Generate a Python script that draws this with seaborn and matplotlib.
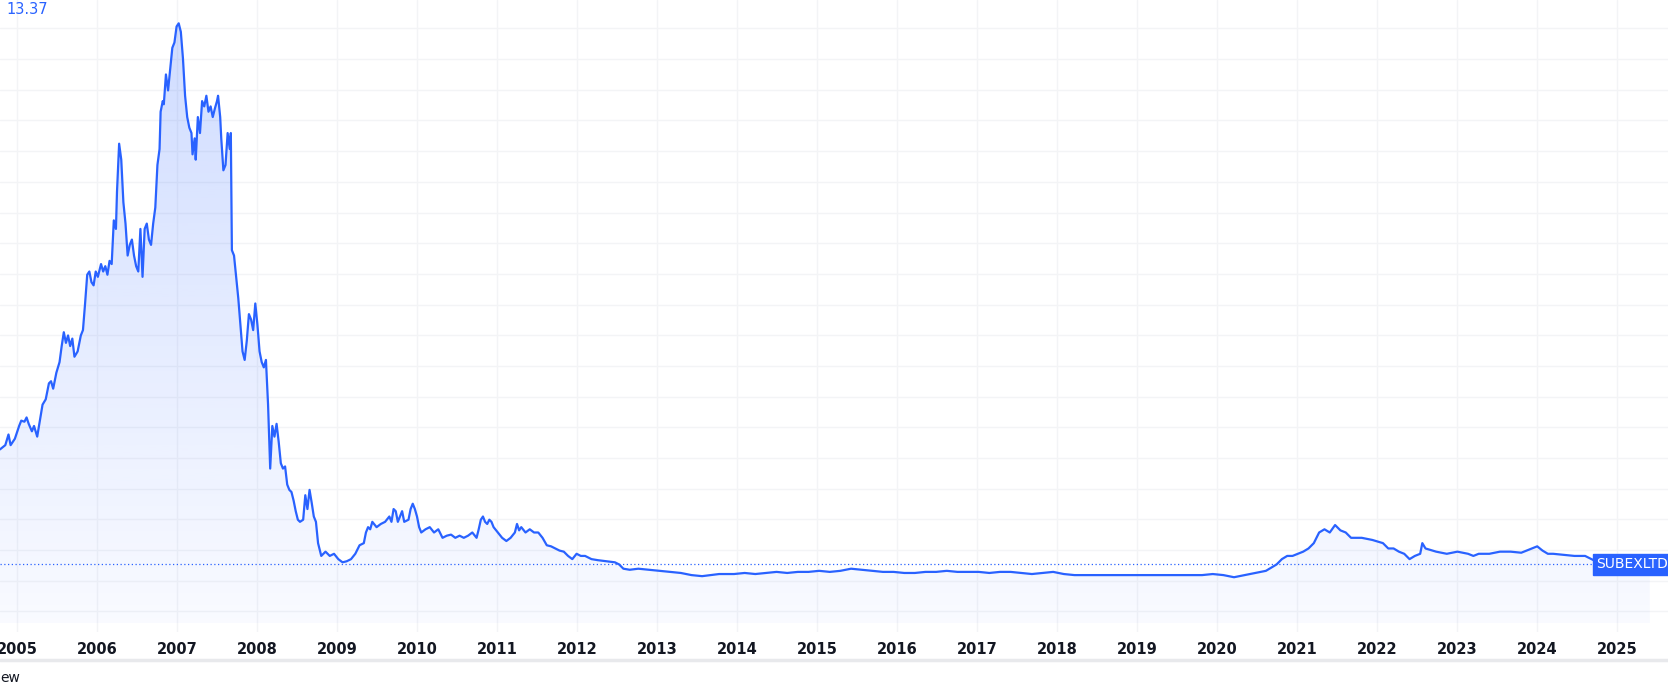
import numpy as np
import pandas as pd
import matplotlib
matplotlib.use("Agg")
import matplotlib.pyplot as plt
import seaborn as sns
from matplotlib.patches import Polygon

# Price series: (pixel x, pixel y) pairs converted to year / price
px = [0,5,8,10,14,18,20,23,25,27,30,32,35,37,40,43,46,48,50,53,56,58,60,62,64,66,68,70,73,76,78,80,82,84,86,88,90,92,95,97,99,101,103,105,107,109,110,112,114,116,118,120,122,124,126,128,130,132,134,136,138,140,142,144,146,148,150,151,153,154,156,158,160,162,164,166,168,170,172,174,176,178,180,181,183,184,186,188,190,192,194,196,198,200,202,204,205,207,208,210,212,214,216,217,218,220,222,224,226,228,230,232,234,236,238,240,242,244,246,248,250,252,254,256,258,260,262,264,266,268,270,272,274,276,278,280,282,285,287,289,291,293,295,297,299,302,306,310,314,318,322,326,330,334,338,342,344,346,348,350,354,358,362,366,368,370,372,374,376,378,380,384,386,388,390,392,394,396,400,404,408,412,416,420,424,428,432,436,440,444,448,450,452,454,456,458,460,462,464,468,472,476,480,484,486,488,490,494,498,502,506,510,514,518,522,526,530,534,538,542,546,550,556,562,570,578,582,586,592,600,610,620,630,640,650,660,668,676,690,700,710,720,730,740,750,760,770,780,790,800,810,820,830,840,850,860,870,880,890,900,910,920,930,940,950,960,970,980,990,1000,1010,1020,1030,1040,1050,1060,1070,1080,1090,1100,1110,1120,1130,1140,1150,1160,1170,1180,1190,1200,1205,1210,1215,1220,1225,1230,1235,1240,1245,1250,1255,1260,1265,1270,1280,1290,1300,1305,1310,1315,1320,1325,1330,1335,1337,1340,1350,1360,1370,1380,1385,1390,1400,1410,1420,1430,1440,1445,1450,1455,1460,1470,1480,1490,1500,1504]
py = [422,418,408,418,412,400,395,396,392,398,405,400,410,398,380,375,360,358,365,350,340,325,312,322,315,325,318,335,330,315,310,285,258,255,265,268,255,260,248,255,250,258,245,248,207,215,180,135,150,190,210,240,230,225,240,250,255,215,260,215,210,225,230,210,195,155,140,105,95,98,70,85,65,45,40,25,22,30,55,90,110,120,125,145,130,150,110,125,95,100,90,105,100,110,102,95,90,110,130,160,155,125,140,125,235,240,260,280,305,330,338,320,295,300,310,285,305,330,340,345,338,380,440,400,410,398,415,435,440,438,455,460,462,470,480,488,490,488,465,478,460,472,485,490,510,522,518,522,520,525,528,527,525,520,512,510,500,495,497,490,495,492,490,485,490,478,480,490,485,480,490,488,478,473,478,485,495,500,497,495,500,497,505,503,502,505,503,505,503,500,505,497,488,485,490,492,488,490,495,500,505,508,505,500,492,498,495,500,497,500,500,505,512,513,515,517,518,522,525,520,522,522,525,526,527,528,530,534,535,534,535,536,537,538,540,541,540,539,539,538,539,538,537,538,537,537,536,537,536,534,535,536,537,537,538,538,537,537,536,537,537,537,538,537,537,538,539,538,537,539,540,540,540,540,540,540,540,540,540,540,540,540,540,539,540,542,540,538,536,530,525,522,522,520,518,515,510,500,497,500,493,498,500,505,505,507,510,515,515,518,520,525,522,520,510,515,518,520,518,520,522,520,520,518,518,519,515,513,517,520,520,521,522,522,527,530]

years = 2005 + (np.array(px) - 16) / 75.2
price = 13.37 * (585 - np.array(py)) / 563.0
df = pd.DataFrame({"year": years, "price": price})

ticks_years = list(range(2005, 2026))
max_label = "13.37"
symbol = "SUBEXLTD"

BLUE = "#2962ff"
W, H = 1668, 695
fig = plt.figure(figsize=(W / 100, H / 100), dpi=100)
sns.set_style("white")
ax = fig.add_axes([0, (H - 632) / H, 1, 632 / H])

x0 = 2005 - 17 / 80
x1 = x0 + W / 80
ylo, yhi = -0.2, 13.89
ax.set_xlim(x0, x1)
ax.set_ylim(ylo, yhi)

# grid
for yv in np.arange(0.26, 13.9, 0.684):
    ax.axhline(yv, color="#f3f4f6", lw=1, zorder=0)
for t in ticks_years:
    ax.axvline(t, color="#f3f4f6", lw=1, zorder=0)

# gradient fill
fill_end = 2025.41
last = price[-1]
xs = np.concatenate([years, [fill_end, fill_end, years[0]]])
ys = np.concatenate([price, [last, 0, 0]])
poly = Polygon(np.column_stack([xs, ys]), closed=True, facecolor="none", edgecolor="none")
ax.add_patch(poly)
grad = np.zeros((256, 1, 4))
grad[:, 0, 0:3] = matplotlib.colors.to_rgb(BLUE)
grad[:, 0, 3] = np.linspace(0.22, 0.03, 256)
im = ax.imshow(grad, extent=[x0, x1, 0, 13.37], origin="upper", aspect="auto", zorder=1)
im.set_clip_path(poly)

sns.lineplot(data=df, x="year", y="price", ax=ax, color=BLUE, lw=1.6, zorder=3, estimator=None, sort=False)
ax.axhline(last, color=BLUE, lw=0.9, ls=(0, (1, 2)), zorder=2)

for s in ax.spines.values():
    s.set_visible(False)
ax.set_yticks([])
ax.set_xticks(ticks_years)
ax.set_xticklabels([str(t) for t in ticks_years], fontsize=10.5, fontweight="bold", color="#131722")
ax.tick_params(axis="x", length=0, pad=7)
ax.set_xlabel("")
ax.set_ylabel("")

ax.text(6 / W, 0.997, max_label, transform=fig.transFigure, color=BLUE, fontsize=10.5, va="top", ha="left")
ax.text(1.0, last, symbol, transform=ax.get_yaxis_transform(), color="white", fontsize=10,
        ha="right", va="center", bbox=dict(boxstyle="square,pad=0.25", fc=BLUE, ec=BLUE), zorder=5)

fig.add_artist(plt.Line2D([0, 1], [(H - 660) / H] * 2, color="#e8e9ec", lw=2.5))
fig.text(0, (H - 678) / H, "ew", fontsize=10, color="#131722", va="center", ha="left")

fig.savefig("out.png", dpi=100)
